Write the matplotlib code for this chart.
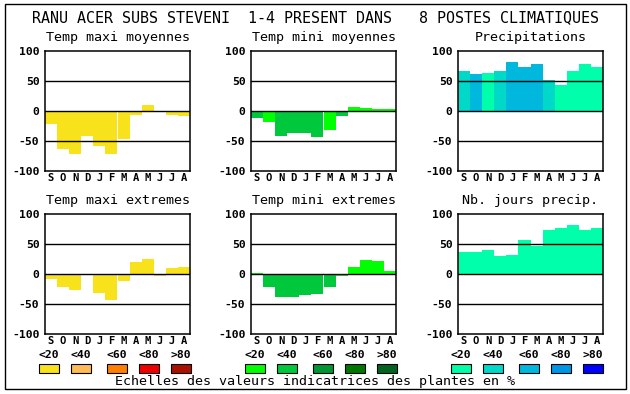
import matplotlib
matplotlib.use('Agg')
import matplotlib.pyplot as plt
from matplotlib.patches import Rectangle

plt.rcParams['font.family'] = 'DejaVu Sans Mono'

months = ['S', 'O', 'N', 'D', 'J', 'F', 'M', 'A', 'M', 'J', 'J', 'A']

tmax_moy = [-22, -63, -72, -42, -59, -72, -47, -6, 10, 0, -6, -8]
tmax_moy_cls = [0] * 12
tmin_moy = [-11, -18, -42, -37, -37, -43, -31, -8, 7, 5, 4, 4]
tmin_moy_cls = [1, 0, 1, 1, 1, 1, 0, 1, 0, 0, 0, 0]
precip = [67, 62, 64, 66, 81, 74, 78, 52, 44, 67, 78, 74]
precip_cls = [1, 2, 0, 1, 2, 2, 2, 1, 0, 0, 0, 0]

tmax_ext = [-8, -21, -27, 0, -31, -43, -11, 20, 25, -4, 10, 12]
tmax_ext_cls = [0] * 12
tmin_ext = [2, -21, -38, -38, -35, -33, -21, -4, 12, 23, 22, 5]
tmin_ext_cls = [0, 1, 1, 1, 1, 1, 1, 0, 0, 0, 0, 0]
nb_jours = [37, 37, 40, 30, 32, 57, 47, 74, 77, 82, 74, 77]
nb_jours_cls = [0] * 12

yticks = [-100, -50, 0, 50, 100]
scale_labels = ['<20', '<40', '<60', '<80', '>80']

warm = ['#F8E21C', '#FFBB55', '#FF8000', '#EE0000', '#AA1100']
green = ['#00FF00', '#00C83C', '#009632', '#007800', '#006420']
blue = ['#00FFAA', '#00D8C8', '#00B8DD', '#0096E6', '#0000FF']

W, H = 630, 394
fig = plt.figure(figsize=(W / 100, H / 100), dpi=100)

def px(x0, y0, x1, y1):
    return [x0 / W, 1 - y1 / H, (x1 - x0) / W, (y1 - y0) / H]

panels = [
    ('Temp maxi moyennes', tmax_moy, tmax_moy_cls, warm, 45, 51),
    ('Temp mini moyennes', tmin_moy, tmin_moy_cls, green, 251, 51),
    ('Precipitations', precip, precip_cls, blue, 458, 51),
    ('Temp maxi extremes', tmax_ext, tmax_ext_cls, warm, 45, 214),
    ('Temp mini extremes', tmin_ext, tmin_ext_cls, green, 251, 214),
    ('Nb. jours precip.', nb_jours, nb_jours_cls, blue, 458, 214),
]

for title, vals, cls, pal, x0, y0 in panels:
    ax = fig.add_axes(px(x0, y0, x0 + 145, y0 + 120))
    ax.bar(range(12), vals, width=1.0, align='edge',
           color=[pal[c] for c in cls], zorder=2)
    for v in [-50, 0, 50]:
        ax.axhline(v, color='black', lw=1.0, zorder=3)
    ax.set_xlim(0, 12)
    ax.set_ylim(-100, 100)
    ax.set_yticks(yticks)
    ax.set_yticklabels([str(t) for t in yticks], fontsize=8.2, fontweight='bold')
    ax.set_xticks([i + 0.5 for i in range(12)])
    ax.set_xticklabels(months, fontsize=7.6, fontweight='bold')
    ax.tick_params(axis='y', length=0, pad=4)
    ax.tick_params(axis='x', length=0, pad=1.5)
    for s in ax.spines.values():
        s.set_linewidth(1.1)
    ax.set_title(title, fontsize=9.6, pad=7)

fig.text(0.5, 1 - 18 / H, 'RANU ACER SUBS STEVENI  1-4 PRESENT DANS   8 POSTES CLIMATIQUES',
         ha='center', va='center', fontsize=10.8)

# scale legends
for pal, x0 in [(warm, 39), (green, 245), (blue, 451)]:
    for i, (c, lab) in enumerate(zip(pal, scale_labels)):
        bx = x0 + i * 32 + (4 if i >= 2 else 0)
        fig.text((bx + 10) / W, 1 - 355 / H, lab, ha='center', va='center',
                 fontsize=8.2, fontweight='bold')
        fig.patches.append(Rectangle((bx / W, 1 - 373 / H), 20 / W, 9 / H,
                                     transform=fig.transFigure, facecolor=c,
                                     edgecolor='black', lw=0.8))

fig.text(0.5, 1 - 382 / H, 'Echelles des valeurs indicatrices des plantes en %',
         ha='center', va='center', fontsize=9.6)

fig.patches.append(Rectangle((5 / W, 1 - 389 / H), 621 / W, 385 / H,
                             transform=fig.transFigure, fill=False,
                             edgecolor='black', lw=1.0))

fig.savefig('out.png', dpi=100)
